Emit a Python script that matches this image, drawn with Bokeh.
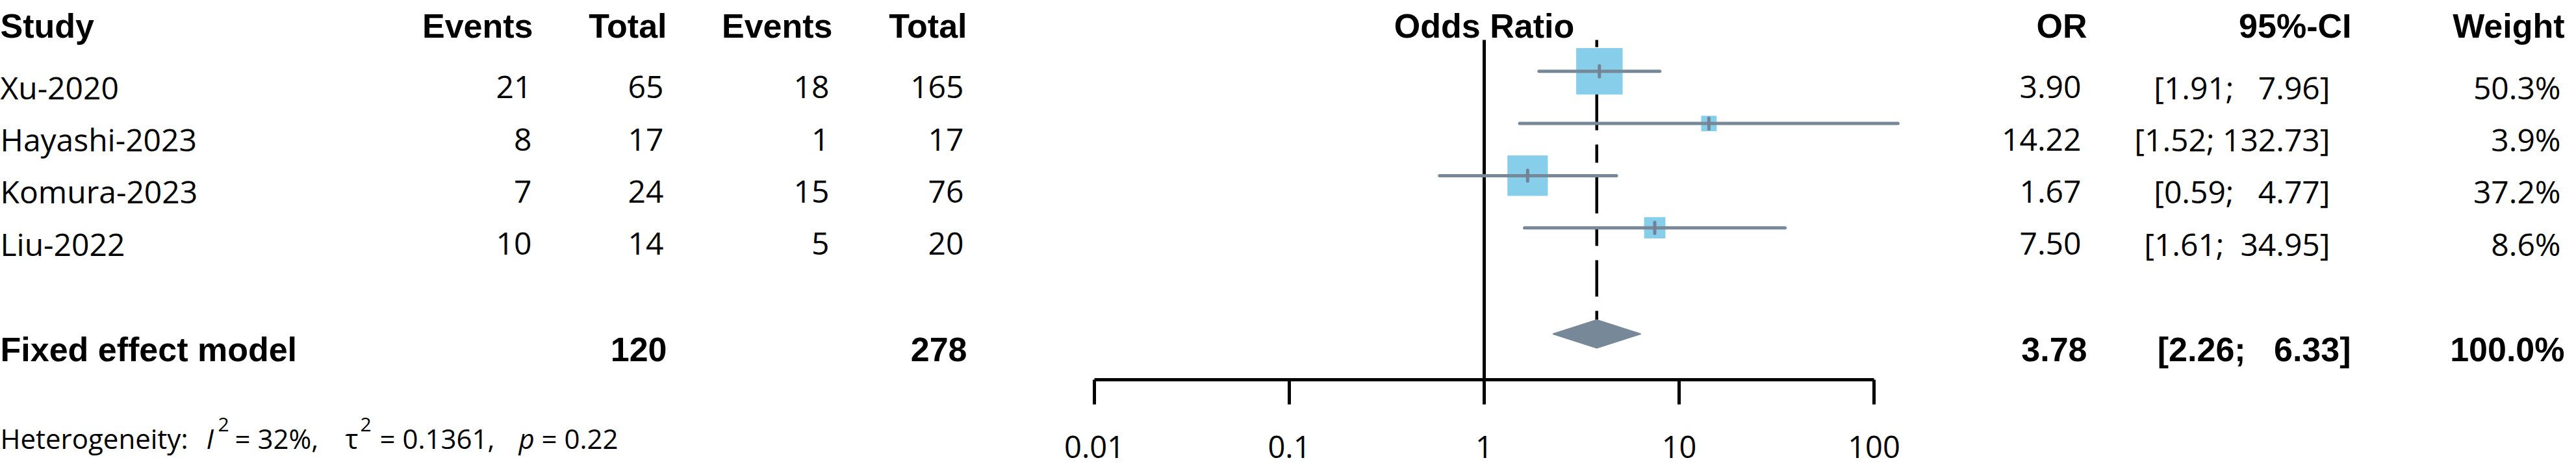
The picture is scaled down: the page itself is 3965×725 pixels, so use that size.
import math
from bokeh.plotting import figure
from bokeh.models import (Range1d, LinearScale, LogAxis, FixedTicker,
                          CustomJSTickFormatter, ColumnDataSource)
from bokeh.core.properties import value
from bokeh.embed import file_html
from bokeh.resources import INLINE

# ---------------- data ----------------
studies = ["Xu-2020", "Hayashi-2023", "Komura-2023", "Liu-2022"]
ev_exp = [21, 8, 7, 10]
tot_exp = [65, 17, 24, 14]
ev_ctrl = [18, 1, 15, 5]
tot_ctrl = [165, 17, 76, 20]
or_est = [3.90, 14.22, 1.67, 7.50]
ci_lo = [1.91, 1.52, 0.59, 1.61]
ci_hi = [7.96, 132.73, 4.77, 34.95]
weights = [50.3, 3.9, 37.2, 8.6]

pooled_label = "Fixed effect model"
pooled_tot_exp = 120
pooled_tot_ctrl = 278
pooled_or = 3.78
pooled_lo = 2.26
pooled_hi = 6.33
pooled_weight = 100.0

het_i2 = 32
het_tau2 = 0.1361
het_p = 0.22

axis_ticks = [0.01, 0.1, 1, 10, 100]
axis_tick_labels = ["0.01", "0.1", "1", "10", "100"]
headers = ["Study", "Events", "Total", "Events", "Total", "OR", "95%-CI", "Weight"]

# ---------------- layout ----------------
W, H = 3949, 709
OFF = 8
X_ONE = 2292      # reference px of OR = 1
DECADE = 300      # px per decade
ROW0 = 117.3      # reference px of first study row
ROW_H = 80.3

REG = "Open Sans"
BOLD = "Liberation Sans"
NB = "\u00a0"


def fx(ref_x):
    return min(max(ref_x - OFF, 0), W - 2)


def row_of(ref_y):
    return 1 + (ref_y - ROW0) / ROW_H


x_lo = 10 ** ((0 - (X_ONE - OFF)) / DECADE)
x_hi = 10 ** ((W - (X_ONE - OFF)) / DECADE)
y_top = row_of(OFF)
y_bot = row_of(OFF + H)

study_rows = [1, 2, 3, 4]
sum_row = row_of(521.5)
header_row = row_of(47)
het_row = row_of(682)
axis_row = row_of(592)
tick_label_row = row_of(695)
top_row = row_of(69)
dh = 21.5 / ROW_H

p = figure(width=W, height=H, x_axis_type="log",
           x_range=Range1d(x_lo, x_hi), y_range=Range1d(y_bot, y_top),
           output_backend="svg", toolbar_location=None,
           x_axis_location=None, y_axis_location=None, min_border=0)
p.outline_line_color = None
p.grid.visible = False
p.background_fill_color = "white"
p.border_fill_color = "white"
p.extra_x_ranges = {"px": Range1d(0, W)}
p.extra_x_scales = {"px": LinearScale()}


def txt(xs, ys, texts, align, font=REG, size="48px", style="normal",
        y_offset=0, px=True):
    src = ColumnDataSource(dict(x=xs, y=ys, t=texts))
    kw = dict(x_range_name="px") if px else {}
    p.text(x="x", y="y", text="t", source=src, text_align=align,
           text_baseline="alphabetic", text_font=value(font),
           text_font_size=value(size), text_font_style=style,
           text_color="black", y_offset=y_offset, **kw)


def ci_text(lo, hi):
    hs = f"{hi:.2f}"
    pad = NB * (6 - len(hs))
    return f"[{lo:.2f};{pad} {hs}]"


# ---- headers ----
hdr_x = [3, 828, 1034, 1289, 1496, 3220, 3627, 3963]
hdr_align = ["left"] + ["right"] * 7
for h, xr, al in zip(headers, hdr_x, hdr_align):
    txt([fx(xr)], [header_row], [h], al, font=BOLD, size="52px", style="bold")
txt([1], [header_row], ["Odds Ratio"], "center", font=BOLD, size="52px",
    style="bold", px=False)

# ---- study rows ----
n = len(studies)
txt([fx(3)] * n, study_rows, studies, "left", y_offset=24.5)
txt([fx(826)] * n, study_rows, [str(v) for v in ev_exp], "right", y_offset=24.5)
txt([fx(1029)] * n, study_rows, [str(v) for v in tot_exp], "right", y_offset=24.5)
txt([fx(1284)] * n, study_rows, [str(v) for v in ev_ctrl], "right", y_offset=24.5)
txt([fx(1491)] * n, study_rows, [str(v) for v in tot_ctrl], "right", y_offset=24.5)
txt([fx(3211)] * n, study_rows, [f"{v:.2f}" for v in or_est], "right", y_offset=24.5)
txt([fx(3594)] * n, study_rows, [ci_text(a, b) for a, b in zip(ci_lo, ci_hi)],
    "right", y_offset=24.5)
txt([fx(3949)] * n, study_rows, [f"{w:.1f}%" for w in weights], "right", y_offset=24.5)

# ---- pooled row ----
bkw = dict(font=BOLD, size="52px", style="bold", y_offset=23.5)
txt([fx(3)], [sum_row], [pooled_label], "left", **bkw)
txt([fx(1034)], [sum_row], [str(pooled_tot_exp)], "right", **bkw)
txt([fx(1496)], [sum_row], [str(pooled_tot_ctrl)], "right", **bkw)
txt([fx(3220)], [sum_row], [f"{pooled_or:.2f}"], "right", **bkw)
txt([fx(3626)], [sum_row], [ci_text(pooled_lo, pooled_hi)], "right", **bkw)
txt([fx(3959)], [sum_row], [f"{pooled_weight:.1f}%"], "right", **bkw)

# ---- heterogeneity ----
het_parts = [
    ("Heterogeneity:", 3, "normal", "42px", 0),
    ("I", 325, "italic", "42px", 0),
    ("2", 343, "normal", "30px", -21),
    (f"= {het_i2}%,", 369, "normal", "42px", 0),
    ("\u03c4", 539, "normal", "42px", 0),
    ("2", 562, "normal", "30px", -21),
    (f"= {het_tau2:.4f},", 592, "normal", "42px", 0),
    ("p", 806, "italic", "42px", 0),
    (f"= {het_p:.2f}", 841, "normal", "42px", 0),
]
for t, xr, st, sz, yo in het_parts:
    txt([fx(xr)], [het_row], [t], "left", size=sz, style=st, y_offset=yo)

# ---- forest ----
# pooled (dashed) line and null line
p.segment(x0=[pooled_or], y0=[top_row], x1=[pooled_or], y1=[sum_row],
          line_color="black", line_width=4.5, line_dash="56 22 28 22",
          line_dash_offset=45)
p.segment(x0=[1], y0=[top_row], x1=[1], y1=[axis_row],
          line_color="black", line_width=5)

fsrc = ColumnDataSource(dict(
    est=or_est, lo=ci_lo, hi=ci_hi, y=study_rows,
    size=[4 + 9.3 * math.sqrt(w) for w in weights],
    ya=[r - 0.105 for r in study_rows], yb=[r + 0.105 for r in study_rows]))
p.scatter(x="est", y="y", size="size", marker="square", source=fsrc,
          fill_color="#87CEEB", line_color="#87CEEB", line_width=1.5,
          line_join="round")
p.segment(x0="lo", x1="hi", y0="y", y1="y", source=fsrc,
          line_color="#778899", line_width=5, line_cap="round")
p.segment(x0="est", x1="est", y0="ya", y1="yb", source=fsrc,
          line_color="#738395", line_width=5, line_cap="round")

p.patch(x=[pooled_lo, pooled_or, pooled_hi, pooled_or],
        y=[sum_row, sum_row - dh, sum_row, sum_row + dh],
        fill_color="#778899", line_color="#778899", line_width=2,
        line_join="round")

# ---- axis (line + ticks from the library, labels as text on the log scale) ----
ax = LogAxis(fixed_location=axis_row, bounds=(axis_ticks[0], axis_ticks[-1]),
             ticker=FixedTicker(ticks=axis_ticks, minor_ticks=[]),
             formatter=CustomJSTickFormatter(code="return ''"),
             major_tick_in=0, major_tick_out=38, minor_tick_in=0,
             minor_tick_out=0, axis_line_width=5, major_tick_line_width=5,
             axis_line_color="black", major_tick_line_color="black",
             major_label_text_font_size="1px", major_label_standoff=0)
p.add_layout(ax, "below")

txt(axis_ticks, [tick_label_row] * len(axis_ticks), axis_tick_labels,
    "center", size="47px", px=False)

open("out.html", "w").write(file_html(p, INLINE))
